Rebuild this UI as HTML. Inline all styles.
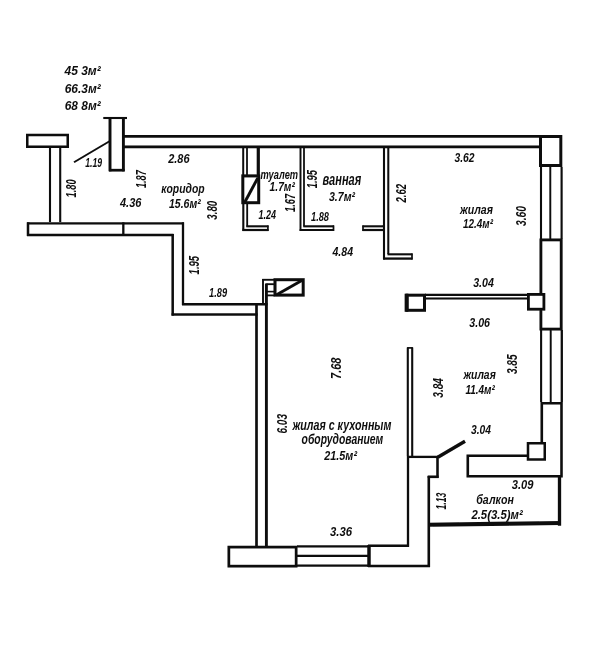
<!DOCTYPE html>
<html><head><meta charset="utf-8"><title>plan</title>
<style>
html,body{margin:0;padding:0;background:#fff;}
svg{display:block;}
text{font-family:"Liberation Sans",sans-serif;font-style:italic;font-weight:bold;font-size:12px;fill:#111;}
</style></head><body>
<svg width="608" height="662" viewBox="0 0 608 662">
<rect width="608" height="662" fill="#fff"/>
<defs><filter id="b" x="-5%" y="-5%" width="110%" height="110%"><feGaussianBlur stdDeviation="0.45"/></filter></defs>
<g filter="url(#b)">
<g stroke="#0a0a0a" fill="none" stroke-linecap="butt">
<rect x="27.25" y="135.00" width="40.50" height="11.75" stroke-width="2.50"/>
<rect x="275.00" y="279.70" width="28.20" height="15.40" stroke-width="3.00"/>
<rect x="228.85" y="547.10" width="67.30" height="19.05" stroke-width="2.70"/>
<rect x="540.50" y="136.50" width="20.30" height="29.00" stroke-width="3.00"/>
<rect x="540.90" y="239.90" width="20.30" height="89.20" stroke-width="2.80"/>
<rect x="528.40" y="294.40" width="15.50" height="14.80" stroke-width="2.80" fill="#fff"/>
<rect x="407.10" y="295.20" width="17.40" height="15.10" stroke-width="3.00"/>
<rect x="242.80" y="175.90" width="15.90" height="26.80" stroke-width="3.00"/>
<polygon points="541.80,403.30 561.50,403.30 561.50,476.30 467.80,476.30 467.80,455.80 541.80,455.80" stroke-width="2.60"/>
<rect x="528.00" y="443.25" width="16.75" height="16.25" stroke-width="2.5" fill="#fff"/>
<line x1="50.00" y1="148.00" x2="50.00" y2="222.00" stroke-width="2.10"/>
<line x1="60.20" y1="148.00" x2="60.20" y2="222.00" stroke-width="2.10"/>
<line x1="27.00" y1="223.30" x2="184.00" y2="223.30" stroke-width="2.30"/>
<line x1="27.00" y1="235.00" x2="173.50" y2="235.00" stroke-width="2.30"/>
<line x1="28.00" y1="222.30" x2="28.00" y2="236.00" stroke-width="2.50"/>
<line x1="123.30" y1="222.30" x2="123.30" y2="236.00" stroke-width="2.30"/>
<line x1="183.00" y1="222.30" x2="183.00" y2="305.00" stroke-width="2.30"/>
<line x1="172.70" y1="234.00" x2="172.70" y2="315.60" stroke-width="2.50"/>
<line x1="182.00" y1="304.30" x2="267.60" y2="304.30" stroke-width="2.50"/>
<line x1="171.60" y1="314.50" x2="257.60" y2="314.50" stroke-width="2.50"/>
<line x1="256.50" y1="304.00" x2="256.50" y2="547.00" stroke-width="2.70"/>
<line x1="266.40" y1="283.40" x2="266.40" y2="547.00" stroke-width="2.90"/>
<line x1="263.00" y1="279.00" x2="263.00" y2="304.00" stroke-width="1.90"/>
<line x1="262.20" y1="279.80" x2="274.50" y2="279.80" stroke-width="1.90"/>
<line x1="266.30" y1="284.20" x2="274.50" y2="284.20" stroke-width="1.80"/>
<line x1="266.30" y1="291.60" x2="274.50" y2="291.60" stroke-width="1.60"/>
<line x1="266.30" y1="295.40" x2="274.50" y2="295.40" stroke-width="1.80"/>
<line x1="276.20" y1="294.90" x2="301.80" y2="280.60" stroke-width="2.90"/>
<line x1="297.00" y1="546.40" x2="369.00" y2="546.40" stroke-width="2.20"/>
<line x1="297.00" y1="555.80" x2="369.00" y2="555.80" stroke-width="2.20"/>
<line x1="297.00" y1="565.60" x2="369.00" y2="565.60" stroke-width="2.20"/>
<line x1="369.00" y1="545.00" x2="369.00" y2="567.00" stroke-width="3.50"/>
<line x1="368.00" y1="545.80" x2="409.00" y2="545.80" stroke-width="2.50"/>
<line x1="368.00" y1="566.00" x2="430.00" y2="566.00" stroke-width="2.50"/>
<line x1="408.00" y1="456.00" x2="408.00" y2="546.80" stroke-width="2.30"/>
<line x1="428.80" y1="476.00" x2="428.80" y2="567.00" stroke-width="2.60"/>
<line x1="427.70" y1="476.80" x2="438.60" y2="476.80" stroke-width="2.60"/>
<line x1="437.50" y1="456.00" x2="437.50" y2="477.90" stroke-width="2.60"/>
<line x1="407.00" y1="456.90" x2="438.60" y2="456.90" stroke-width="2.30"/>
<line x1="407.80" y1="347.50" x2="407.80" y2="456.00" stroke-width="2.10"/>
<line x1="412.20" y1="347.50" x2="412.20" y2="456.00" stroke-width="2.10"/>
<line x1="407.10" y1="347.90" x2="412.90" y2="347.90" stroke-width="1.70"/>
<line x1="437.80" y1="457.30" x2="465.00" y2="441.30" stroke-width="3.50"/>
<line x1="428.80" y1="524.80" x2="561.00" y2="523.00" stroke-width="4.10"/>
<line x1="559.50" y1="477.00" x2="559.50" y2="525.70" stroke-width="3.30"/>
<line x1="541.00" y1="167.00" x2="541.00" y2="239.00" stroke-width="2.10"/>
<line x1="550.30" y1="167.00" x2="550.30" y2="239.00" stroke-width="1.90"/>
<line x1="561.60" y1="167.00" x2="561.60" y2="239.00" stroke-width="2.10"/>
<line x1="541.10" y1="330.00" x2="541.10" y2="402.00" stroke-width="2.10"/>
<line x1="550.70" y1="330.00" x2="550.70" y2="402.00" stroke-width="1.90"/>
<line x1="561.80" y1="330.00" x2="561.80" y2="402.00" stroke-width="2.30"/>
<line x1="406.50" y1="293.70" x2="406.50" y2="311.80" stroke-width="3.70"/>
<line x1="425.00" y1="294.90" x2="527.50" y2="294.90" stroke-width="2.10"/>
<line x1="425.00" y1="298.50" x2="527.50" y2="298.50" stroke-width="2.00"/>
<line x1="123.50" y1="136.30" x2="540.00" y2="136.30" stroke-width="2.80"/>
<line x1="123.50" y1="146.90" x2="540.00" y2="146.90" stroke-width="2.60"/>
<line x1="110.00" y1="117.50" x2="110.00" y2="171.30" stroke-width="2.90"/>
<line x1="123.40" y1="117.50" x2="123.40" y2="171.30" stroke-width="2.90"/>
<line x1="103.30" y1="118.00" x2="127.00" y2="118.00" stroke-width="2.10"/>
<line x1="109.00" y1="170.20" x2="124.60" y2="170.20" stroke-width="2.70"/>
<line x1="74.00" y1="162.30" x2="109.50" y2="141.20" stroke-width="1.90"/>
<line x1="243.20" y1="148.00" x2="243.20" y2="175.00" stroke-width="2.00"/>
<line x1="243.30" y1="203.00" x2="243.30" y2="231.00" stroke-width="2.10"/>
<line x1="247.00" y1="148.00" x2="247.00" y2="175.00" stroke-width="1.80"/>
<line x1="247.20" y1="203.00" x2="247.20" y2="226.50" stroke-width="1.80"/>
<line x1="258.30" y1="148.00" x2="258.30" y2="176.00" stroke-width="3.20"/>
<line x1="244.60" y1="202.50" x2="257.80" y2="178.00" stroke-width="2.90"/>
<line x1="242.40" y1="230.00" x2="268.50" y2="230.00" stroke-width="2.20"/>
<line x1="246.30" y1="226.30" x2="268.50" y2="226.30" stroke-width="2.10"/>
<line x1="267.90" y1="225.40" x2="267.90" y2="231.00" stroke-width="1.70"/>
<line x1="300.50" y1="148.00" x2="300.50" y2="231.00" stroke-width="1.90"/>
<line x1="304.00" y1="148.00" x2="304.00" y2="226.50" stroke-width="1.80"/>
<line x1="299.70" y1="230.00" x2="334.00" y2="230.00" stroke-width="2.20"/>
<line x1="303.30" y1="226.30" x2="334.00" y2="226.30" stroke-width="2.10"/>
<line x1="333.50" y1="225.40" x2="333.50" y2="231.00" stroke-width="1.70"/>
<line x1="362.50" y1="226.30" x2="384.00" y2="226.30" stroke-width="2.10"/>
<line x1="362.50" y1="230.00" x2="384.00" y2="230.00" stroke-width="2.20"/>
<line x1="363.00" y1="225.40" x2="363.00" y2="231.00" stroke-width="1.70"/>
<line x1="384.00" y1="148.00" x2="384.00" y2="259.50" stroke-width="2.10"/>
<line x1="388.30" y1="148.00" x2="388.30" y2="254.00" stroke-width="2.00"/>
<line x1="383.10" y1="258.60" x2="412.50" y2="258.60" stroke-width="2.30"/>
<line x1="387.50" y1="254.30" x2="412.50" y2="254.30" stroke-width="2.10"/>
<line x1="412.00" y1="253.40" x2="412.00" y2="259.60" stroke-width="1.70"/>
</g>
<g>
<text x="64.50" y="74.60" style="font-size:13.5px" textLength="36.20" lengthAdjust="spacingAndGlyphs">45 3м²</text>
<text x="64.70" y="92.50" style="font-size:13.5px" textLength="36.00" lengthAdjust="spacingAndGlyphs">66.3м²</text>
<text x="64.70" y="110.30" style="font-size:13.5px" textLength="36.00" lengthAdjust="spacingAndGlyphs">68 8м²</text>
<text x="85.20" y="166.50" style="font-size:13.5px" textLength="16.80" lengthAdjust="spacingAndGlyphs">1.19</text>
<text x="120.00" y="206.50" style="font-size:13.5px" textLength="21.40" lengthAdjust="spacingAndGlyphs">4.36</text>
<text x="168.20" y="163.20" style="font-size:13.5px" textLength="21.30" lengthAdjust="spacingAndGlyphs">2.86</text>
<text x="161.20" y="193.40" style="font-size:13.5px" textLength="43.40" lengthAdjust="spacingAndGlyphs">коридор</text>
<text x="169.00" y="207.90" style="font-size:13.5px" textLength="31.70" lengthAdjust="spacingAndGlyphs">15.6м²</text>
<text x="260.60" y="178.80" style="font-size:13px" textLength="37.50" lengthAdjust="spacingAndGlyphs">туалет</text>
<text x="269.60" y="191.30" style="font-size:13.5px" textLength="25.20" lengthAdjust="spacingAndGlyphs">1.7м²</text>
<text x="258.50" y="219.00" style="font-size:13.5px" textLength="17.50" lengthAdjust="spacingAndGlyphs">1.24</text>
<text x="322.60" y="185.20" style="font-size:16px" textLength="38.60" lengthAdjust="spacingAndGlyphs">ванная</text>
<text x="329.00" y="200.50" style="font-size:13.5px" textLength="26.00" lengthAdjust="spacingAndGlyphs">3.7м²</text>
<text x="311.00" y="221.00" style="font-size:13.5px" textLength="18.00" lengthAdjust="spacingAndGlyphs">1.88</text>
<text x="332.50" y="256.30" style="font-size:13.5px" textLength="20.50" lengthAdjust="spacingAndGlyphs">4.84</text>
<text x="454.50" y="162.30" style="font-size:13.5px" textLength="20.00" lengthAdjust="spacingAndGlyphs">3.62</text>
<text x="460.00" y="214.00" style="font-size:13px" textLength="33.00" lengthAdjust="spacingAndGlyphs">жилая</text>
<text x="463.00" y="227.50" style="font-size:13.5px" textLength="30.00" lengthAdjust="spacingAndGlyphs">12.4м²</text>
<text x="473.20" y="286.80" style="font-size:13.5px" textLength="20.70" lengthAdjust="spacingAndGlyphs">3.04</text>
<text x="469.30" y="327.40" style="font-size:13.5px" textLength="20.70" lengthAdjust="spacingAndGlyphs">3.06</text>
<text x="463.40" y="379.20" style="font-size:12.5px" textLength="32.40" lengthAdjust="spacingAndGlyphs">жилая</text>
<text x="465.40" y="393.80" style="font-size:13.5px" textLength="29.40" lengthAdjust="spacingAndGlyphs">11.4м²</text>
<text x="471.00" y="433.60" style="font-size:13.5px" textLength="20.00" lengthAdjust="spacingAndGlyphs">3.04</text>
<text x="511.80" y="489.20" style="font-size:13.5px" textLength="21.70" lengthAdjust="spacingAndGlyphs">3.09</text>
<text x="476.30" y="503.80" style="font-size:13.5px" textLength="37.50" lengthAdjust="spacingAndGlyphs">балкон</text>
<text x="471.40" y="519.30" style="font-size:13.5px" textLength="51.30" lengthAdjust="spacingAndGlyphs">2.5(3.5)м²</text>
<text x="209.10" y="297.20" style="font-size:13.5px" textLength="18.00" lengthAdjust="spacingAndGlyphs">1.89</text>
<text x="292.40" y="429.80" style="font-size:14px" textLength="99.00" lengthAdjust="spacingAndGlyphs">жилая с кухонным</text>
<text x="301.60" y="444.00" style="font-size:14px" textLength="81.60" lengthAdjust="spacingAndGlyphs">оборудованием</text>
<text x="324.30" y="459.80" style="font-size:13.5px" textLength="32.70" lengthAdjust="spacingAndGlyphs">21.5м²</text>
<text x="330.00" y="536.00" style="font-size:13.5px" textLength="22.00" lengthAdjust="spacingAndGlyphs">3.36</text>
<text transform="translate(76.40,197.40) rotate(-90)" x="0" y="0" style="font-size:14px" textLength="18.00" lengthAdjust="spacingAndGlyphs">1.80</text>
<text transform="translate(145.60,188.00) rotate(-90)" x="0" y="0" style="font-size:14px" textLength="17.70" lengthAdjust="spacingAndGlyphs">1.87</text>
<text transform="translate(216.70,219.70) rotate(-90)" x="0" y="0" style="font-size:14px" textLength="19.00" lengthAdjust="spacingAndGlyphs">3.80</text>
<text transform="translate(199.20,274.40) rotate(-90)" x="0" y="0" style="font-size:14px" textLength="18.50" lengthAdjust="spacingAndGlyphs">1.95</text>
<text transform="translate(295.10,211.90) rotate(-90)" x="0" y="0" style="font-size:14px" textLength="18.00" lengthAdjust="spacingAndGlyphs">1.67</text>
<text transform="translate(316.70,188.30) rotate(-90)" x="0" y="0" style="font-size:14px" textLength="18.30" lengthAdjust="spacingAndGlyphs">1.95</text>
<text transform="translate(405.90,202.50) rotate(-90)" x="0" y="0" style="font-size:14px" textLength="18.50" lengthAdjust="spacingAndGlyphs">2.62</text>
<text transform="translate(525.90,226.00) rotate(-90)" x="0" y="0" style="font-size:14px" textLength="20.00" lengthAdjust="spacingAndGlyphs">3.60</text>
<text transform="translate(517.40,374.10) rotate(-90)" x="0" y="0" style="font-size:14px" textLength="19.60" lengthAdjust="spacingAndGlyphs">3.85</text>
<text transform="translate(442.90,397.70) rotate(-90)" x="0" y="0" style="font-size:14px" textLength="19.70" lengthAdjust="spacingAndGlyphs">3.84</text>
<text transform="translate(340.90,379.00) rotate(-90)" x="0" y="0" style="font-size:14px" textLength="21.50" lengthAdjust="spacingAndGlyphs">7.68</text>
<text transform="translate(286.90,433.60) rotate(-90)" x="0" y="0" style="font-size:14px" textLength="19.60" lengthAdjust="spacingAndGlyphs">6.03</text>
<text transform="translate(445.70,509.50) rotate(-90)" x="0" y="0" style="font-size:14px" textLength="16.80" lengthAdjust="spacingAndGlyphs">1.13</text>
</g>
</g>
</svg>
</body></html>
